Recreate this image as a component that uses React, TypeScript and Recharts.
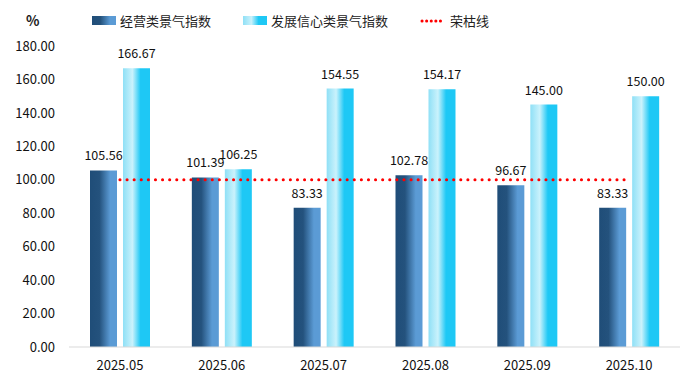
import { ComposedChart, Bar, Line, XAxis, YAxis, LabelList } from 'recharts';

const months = ['2025.05', '2025.06', '2025.07', '2025.08', '2025.09', '2025.10'];
const business = [105.56, 101.39, 83.33, 102.78, 96.67, 83.33];
const confidence = [166.67, 106.25, 154.55, 154.17, 145.0, 150.0];
const boomLine = [100, 100, 100, 100, 100, 100];

const data = months.map((m, i) => ({
  month: m,
  business: business[i],
  confidence: confidence[i],
  line: boomLine[i],
}));

const font = '"Noto Sans CJK SC", "Liberation Sans", sans-serif';

function LegendBox() {
  const item = { display: 'flex', alignItems: 'center', marginRight: 32 } as const;
  return (
    <div style={{ position: 'absolute', left: 92, top: 11, display: 'flex', alignItems: 'center', fontSize: 13, color: '#222', fontFamily: font }}>
      <div style={item}>
        <span style={{ width: 24, height: 9, marginRight: 4, background: 'linear-gradient(90deg,#204e79 0%,#24527c 35%,#5b9bd5 75%,#5b9bd5 100%)' }} />
        经营类景气指数
      </div>
      <div style={item}>
        <span style={{ width: 24, height: 9, marginRight: 4, background: 'linear-gradient(90deg,#8fe0f6 0%,#c9f1fb 35%,#1ec8f5 65%,#1ec8f5 100%)' }} />
        发展信心类景气指数
      </div>
      <div style={item}>
        <svg width={22} height={8} style={{ marginRight: 8 }}>
          <line x1={2} y1={4} x2={21} y2={4} stroke="#ff0000" strokeWidth={3} strokeDasharray="0.1 4.5" strokeLinecap="round" />
        </svg>
        荣枯线
      </div>
    </div>
  );
}

const labelStyle = { fontSize: 12.5, fill: '#111', fontFamily: font };

export default function App() {
  return (
    <div style={{ position: 'absolute', left: 0, top: 0, width: 694, height: 385, background: '#fff', fontFamily: font }}>
      <div style={{ position: 'absolute', left: 26, top: 10, fontSize: 14, fontWeight: 'bold', color: '#222' }}>%</div>
      <LegendBox />
      <ComposedChart width={694} height={385} data={data} margin={{ top: 46, right: 14, bottom: 8, left: 0 }} barGap={6} barCategoryGap={21}>
        <defs>
          <linearGradient id="gDark" x1="0" y1="0" x2="1" y2="0">
            <stop offset="0%" stopColor="#1f4d78" />
            <stop offset="35%" stopColor="#24527d" />
            <stop offset="75%" stopColor="#5b9bd5" />
            <stop offset="100%" stopColor="#5b9bd5" />
          </linearGradient>
          <linearGradient id="gLight" x1="0" y1="0" x2="1" y2="0">
            <stop offset="0%" stopColor="#8fe0f6" />
            <stop offset="35%" stopColor="#caf2fc" />
            <stop offset="65%" stopColor="#1ec8f5" />
            <stop offset="100%" stopColor="#1ec8f5" />
          </linearGradient>
        </defs>
        <XAxis
          dataKey="month"
          height={30}
          tickLine={false}
          axisLine={{ stroke: '#d9d9d9' }}
          tick={{ fontSize: 13, fill: '#111', fontFamily: font }}
          tickMargin={8}
        />
        <YAxis
          width={69}
          domain={[0, 180]}
          ticks={[0, 20, 40, 60, 80, 100, 120, 140, 160, 180]}
          tickFormatter={(v: number) => v.toFixed(2)}
          axisLine={false}
          tickLine={false}
          tick={{ fontSize: 13, fill: '#111', fontFamily: font }}
          tickMargin={8}
        />
        <Bar dataKey="business" name="经营类景气指数" fill="url(#gDark)" barSize={27} isAnimationActive={false}>
          <LabelList dataKey="business" position="top" offset={10} formatter={(v: number) => v.toFixed(2)} style={labelStyle} />
        </Bar>
        <Bar dataKey="confidence" name="发展信心类景气指数" fill="url(#gLight)" barSize={27} isAnimationActive={false}>
          <LabelList dataKey="confidence" position="top" offset={10} formatter={(v: number) => v.toFixed(2)} style={labelStyle} />
        </Bar>
        <Line
          dataKey="line"
          name="荣枯线"
          stroke="#ff0000"
          strokeWidth={3}
          strokeDasharray="0.1 7"
          strokeLinecap="round"
          dot={false}
          activeDot={false}
          isAnimationActive={false}
        />
      </ComposedChart>
    </div>
  );
}
